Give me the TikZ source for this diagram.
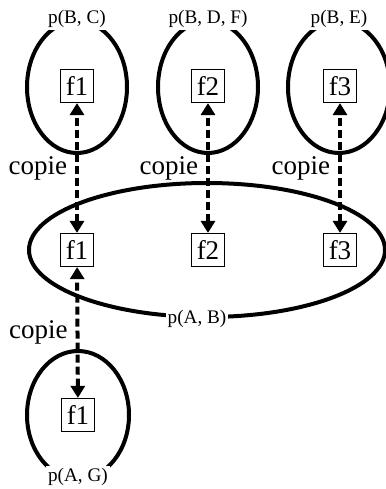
\documentclass[tikz,border=0pt]{standalone}
\usepackage{fontspec}
\setmainfont{Liberation Serif}
\usepackage{tikz}
\usetikzlibrary{positioning, shapes.geometric, arrows.meta}

\begin{document}
\begin{tikzpicture}[
  x=0.5pt, y=0.5pt,
  part/.style={draw, ellipse, line width=2pt, inner sep=0pt},
  plabel/.style={fill=white, inner sep=1pt, font=\fontsize{9.6}{11}\selectfont},
  fbox/.style={draw, line width=0.6pt, minimum width=16.5pt, minimum height=16.5pt,
               inner sep=0pt, font=\fontsize{13.5}{15}\selectfont},
  copy/.style={{Triangle[length=6pt,width=7pt]}-{Triangle[length=6pt,width=7pt]},
               line width=2pt, dash pattern=on 4pt off 2pt},
  lbl/.style={left, inner sep=4pt, font=\fontsize{13.5}{15}\selectfont}
]
  \useasboundingbox (0,0) rectangle (386,489);

  % parts
  \node[part, minimum width=50pt, minimum height=66pt]  (pbc)  at (77,402)  {};
  \node[part, minimum width=50pt, minimum height=66pt]  (pbdf) at (208,402) {};
  \node[part, minimum width=51pt, minimum height=66pt]  (pbe)  at (339,402) {};
  \node[part, minimum width=178pt, minimum height=67pt] (pab)  at (207,239) {};
  \node[part, minimum width=51pt, minimum height=64pt]  (pag)  at (78,74)   {};

  \node[plabel] (lbc)  at (pbc.north)  {p(B, C)};
  \node[plabel] (lbdf) at (pbdf.north) {p(B, D, F)};
  \node[plabel] (lbe)  at (pbe.north)  {p(B, E)};
  \node[plabel, xshift=-5pt] (lab) at (pab.south) {p(A, B)};
  \node[plabel, yshift=2pt]  (lag) at (pag.south) {p(A, G)};

  % files
  \node[fbox] (t1) at (77,403)  {f1};
  \node[fbox] (t2) at (208,403) {f2};
  \node[fbox] (t3) at (340,403) {f3};
  \node[fbox] (m1) at (77,239)  {f1};
  \node[fbox] (m2) at (208,239) {f2};
  \node[fbox] (m3) at (340,239) {f3};
  \node[fbox] (b1) at (78,74)   {f1};

  % copies
  \draw[copy] (m1) -- node[lbl] {copie} (t1);
  \draw[copy] (m2) -- node[lbl] {copie} (t2);
  \draw[copy] (m3) -- node[lbl] {copie} (t3);
  \draw[copy] (b1) -- node[lbl] {copie} (m1);
\end{tikzpicture}
\end{document}
